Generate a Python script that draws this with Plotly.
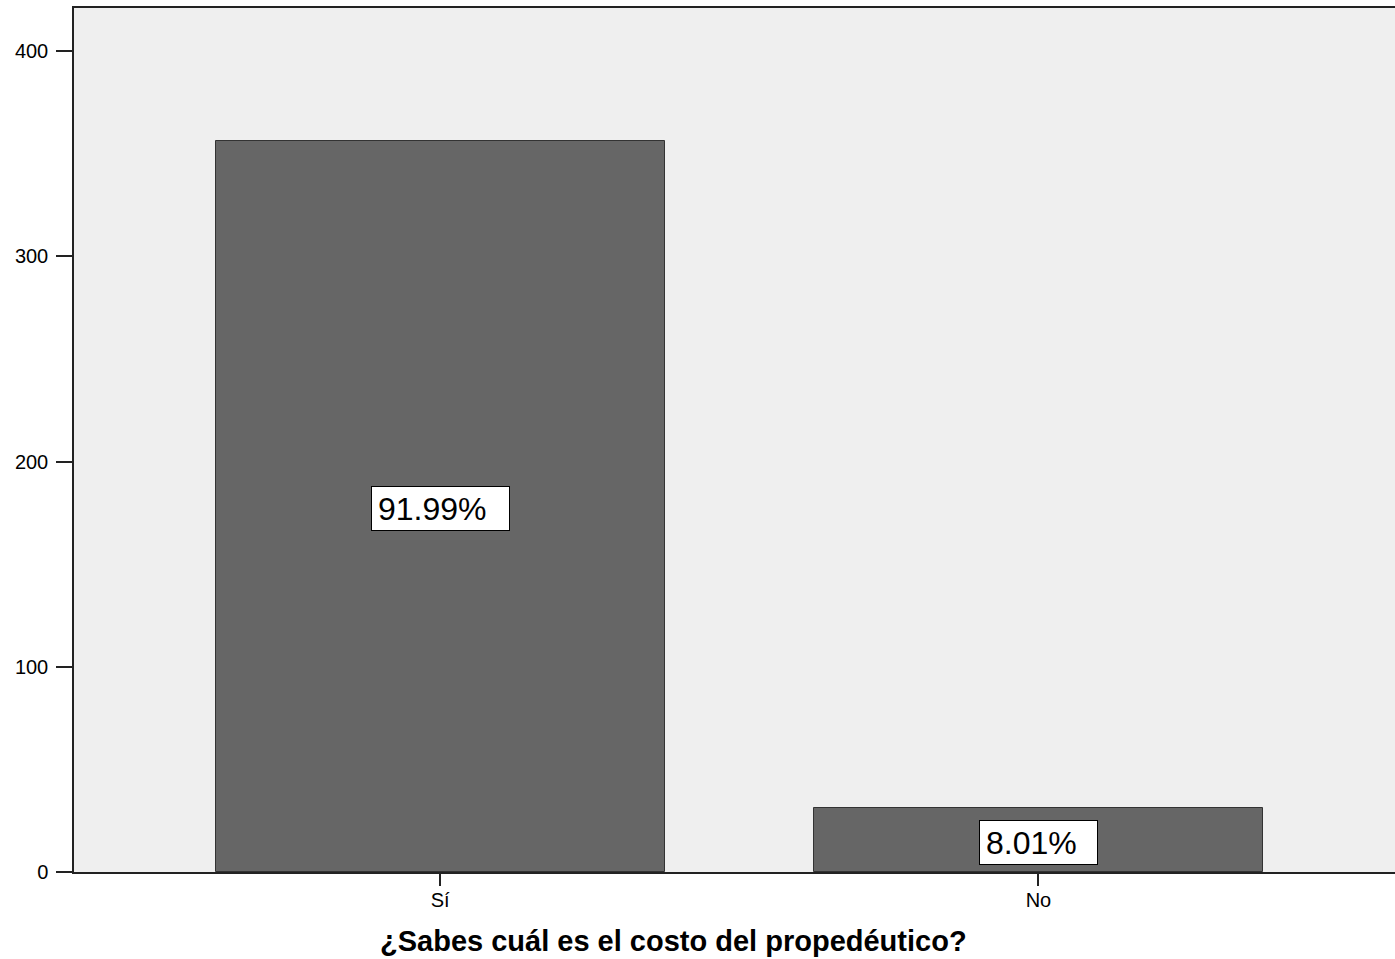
import plotly.graph_objects as go

categories = ["Sí", "No"]
counts = [356, 31]
y_ticks = [0, 100, 200, 300, 400]
x_title = "¿Sabes cuál es el costo del propedéutico?"

total = sum(counts)
percents = [c / total * 100 for c in counts]

FONT = "Arial, 'Liberation Sans', sans-serif"

fig = go.Figure(
    go.Bar(
        x=[0, 1],
        y=counts,
        width=0.75,
        marker=dict(color="#666666", line=dict(color="#333333", width=1)),
        hoverinfo="skip",
    )
)

# Percentage boxes centred on each bar
box_widths = [125, 105]
for i, (c, p) in enumerate(zip(counts, percents)):
    fig.add_annotation(
        x=i, y=c / 2, xref="x", yref="y",
        text=f"{p:.2f}%",
        showarrow=False,
        font=dict(family=FONT, size=32, color="#000000"),
        bgcolor="#ffffff",
        bordercolor="#000000",
        borderwidth=1,
        borderpad=6,
        width=box_widths[i],
        height=31,
        align="left",
        yshift=-2,
    )

fig.add_annotation(
    x=0.4535, y=0, xref="paper", yref="paper",
    yanchor="top", yshift=-51,
    text=f"<b>{x_title}</b>",
    showarrow=False,
    font=dict(family=FONT, size=29, color="#000000"),
)

fig.update_layout(
    width=1395, height=959,
    margin=dict(l=74, r=0, t=8, b=87),
    paper_bgcolor="#ffffff",
    plot_bgcolor="#efefef",
    showlegend=False,
    bargap=0,
    font=dict(family=FONT, size=20, color="#000000"),
)

fig.update_xaxes(
    range=[-0.612, 1.596],
    tickmode="array", tickvals=[0, 1], ticktext=categories,
    ticks="outside", ticklen=12, tickwidth=1.5, tickcolor="#222222",
    showline=True, linecolor="#222222", linewidth=1.5, mirror=True,
    showgrid=False, zeroline=False,
    ticklabelstandoff=-3,
    tickfont=dict(family=FONT, size=20),
)
fig.update_yaxes(
    range=[0, 421],
    tickmode="array", tickvals=y_ticks,
    ticks="outside", ticklen=16, tickwidth=1.5, tickcolor="#222222",
    showline=True, linecolor="#222222", linewidth=1.5,
    showgrid=False, zeroline=False,
    ticklabelstandoff=4,
    tickfont=dict(family=FONT, size=20),
)

fig.write_html("out.html")
